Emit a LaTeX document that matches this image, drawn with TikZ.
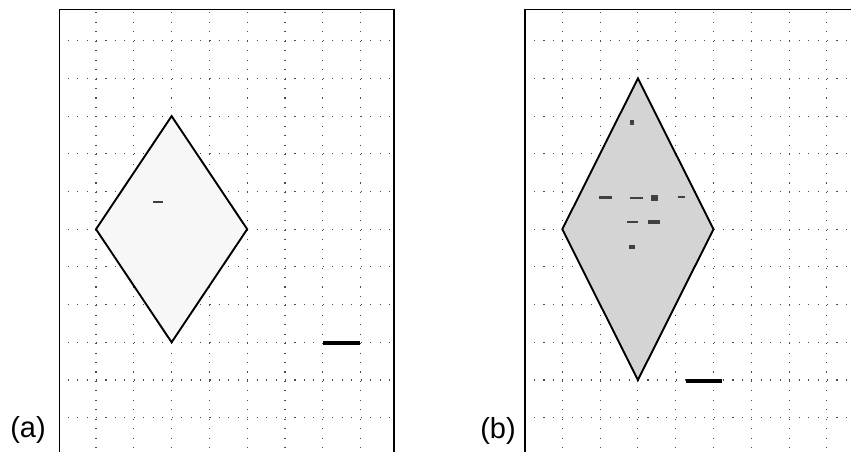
\documentclass[tikz,border=0pt]{standalone}
\usepackage{fontspec}
\setmainfont{Liberation Sans}
\begin{document}
\begin{tikzpicture}[x=1pt,y=-1pt,
  gridline/.style={draw=black!70,line width=1.1pt,dash pattern=on 1.1pt off 8.35pt},
  frame/.style={draw=black,line width=1.9pt},
  rhomb/.style={draw=black,line width=1.9pt,line join=miter},
  scalebar/.style={draw=black,line width=4pt},
  speck/.style={fill=black!75,draw=none},
  panellabel/.style={font=\fontsize{29}{32}\selectfont,inner sep=0pt}]
\useasboundingbox (0,0) rectangle (851,452);
\fill[white] (0,0) rectangle (851,452);
% ---------- panel (a) ----------
\foreach \k in {0,...,7}{
  \draw[gridline] ({96+37.8*\k},12.35) -- ({96+37.8*\k},452);
}
\foreach \k in {0,...,10}{
  \draw[gridline] (67.65,{40.7+37.7*\k}) -- (390,{40.7+37.7*\k});
}
\coordinate (aT) at (171.6,116.1);
\coordinate (aL) at (96,229.2);
\coordinate (aR) at (247.2,229.2);
\coordinate (aB) at (171.6,342.3);
\filldraw[rhomb,fill=black!3] (aT) -- (aR) -- (aB) -- (aL) -- cycle;
\fill[speck] (153,200.8) rectangle (163,203);
\coordinate (aS1) at (323,342.5);
\coordinate (aS2) at (360,342.5);
\draw[scalebar] (aS1) -- (aS2);
\draw[frame] (59.5,452) -- (59.5,9.5) -- (394,9.5) -- (394,452);
\node[panellabel] (la) at (28,430) {(a)};
% ---------- panel (b) ----------
\foreach \k in {0,...,7}{
  \draw[gridline] ({562.3+37.8*\k},12.35) -- ({562.3+37.8*\k},452);
}
\foreach \k in {0,...,10}{
  \draw[gridline] (534,{40.7+37.7*\k}) -- (851,{40.7+37.7*\k});
}
\coordinate (bT) at (637.9,78.4);
\coordinate (bL) at (562.3,229.2);
\coordinate (bR) at (713.5,229.2);
\coordinate (bB) at (637.9,380);
\filldraw[rhomb,fill=black!17] (bT) -- (bR) -- (bB) -- (bL) -- cycle;
\fill[speck] (630,120) rectangle (634,125);
\fill[speck] (599,195.5) rectangle (612,198.5);
\fill[speck] (630,196.5) rectangle (643,199);
\fill[speck] (651,195) rectangle (658,201);
\fill[speck] (678,196) rectangle (685,198);
\fill[speck] (627,220.5) rectangle (638,223);
\fill[speck] (648,220) rectangle (660,223.5);
\fill[speck] (629,245) rectangle (635,248.5);
\coordinate (bS1) at (685.7,381);
\coordinate (bS2) at (722.3,381);
\draw[scalebar] (bS1) -- (bS2);
\draw[frame] (525,452) -- (525,9.5) -- (851,9.5);
\node[panellabel] (lb) at (498,431) {(b)};
\end{tikzpicture}
\end{document}
